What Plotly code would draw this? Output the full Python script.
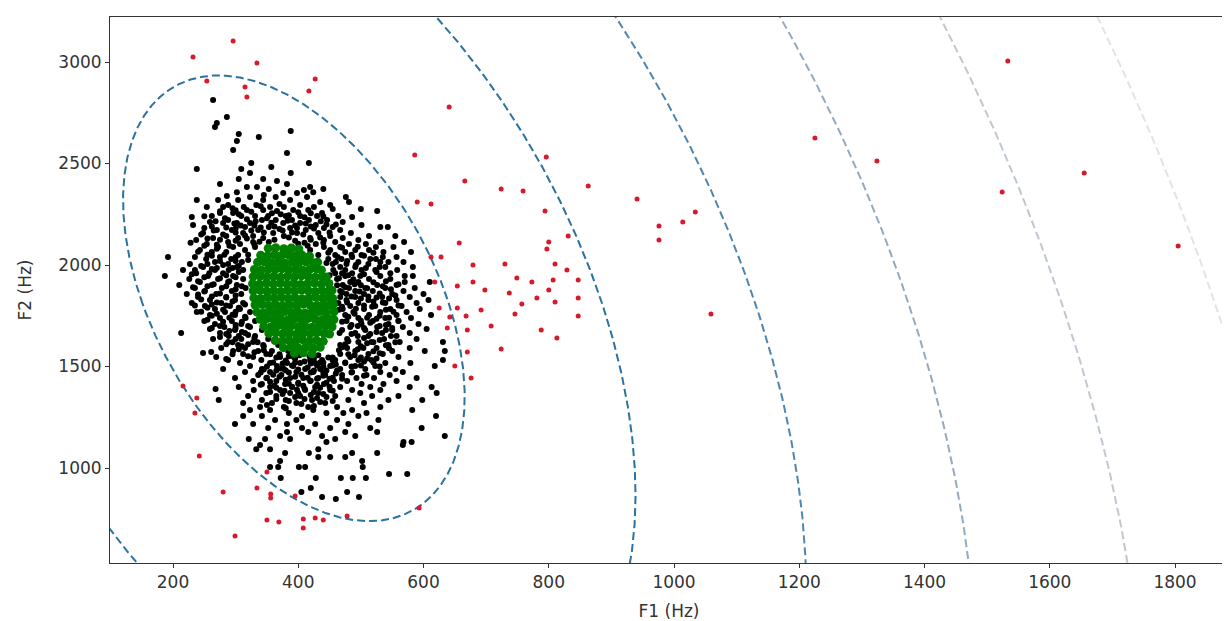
import numpy as np
import plotly.graph_objects as go

# ---- axis ticks ----
x_ticks = [200, 400, 600, 800, 1000, 1200, 1400, 1600, 1800]
y_ticks = [1000, 1500, 2000, 2500, 3000]

# ---- Mahalanobis-distance contours (centre, covariance at distance 1, levels) ----
ellipse_center = [393, 1836]
ellipse_cov = [[74400, -132300], [-132300, 1205000]]
contour_levels = [1, 2, 3, 4, 5, 6]
contour_colors = ["#2a72a0", "#2a72a0", "#4f86b0", "#94aac0", "#bfc7d0", "#e0e3e7"]

# ---- outliers (red) : (F1, F2) ----
red_pts = [
    (232, 3025), (296, 3103), (334, 2995), (254, 2906), (315, 2877), (318, 2828), (427, 2916), (417, 2857),
    (641, 2778), (586, 2542), (796, 2532), (666, 2414), (724, 2374), (759, 2365), (863, 2389), (941, 2325),
    (1034, 2261), (1014, 2212), (976, 2192), (976, 2123), (590, 2310), (612, 2300), (794, 2266), (831, 2143),
    (657, 2108), (800, 2113), (797, 2079), (612, 2039), (628, 2039), (679, 2000), (730, 2005), (810, 2005),
    (829, 1975), (749, 1936), (773, 1916), (807, 1926), (847, 1926), (618, 1916), (654, 1897), (679, 1916),
    (698, 1877), (800, 1877), (737, 1862), (781, 1837), (757, 1808), (810, 1818), (847, 1837), (625, 1788),
    (654, 1788), (692, 1778), (746, 1759), (668, 1749), (847, 1749), (642, 1744), (708, 1700), (638, 1690),
    (670, 1680), (788, 1680), (813, 1640), (670, 1571), (724, 1586), (650, 1502), (676, 1443), (1059, 1759),
    (1225, 2626), (1324, 2512), (1533, 3005), (1524, 2360), (1655, 2453), (1805, 2094),
    (216, 1404), (238, 1345), (235, 1271), (242, 1059), (280, 882), (299, 665), (334, 901), (350, 980),
    (356, 872), (356, 852), (395, 862), (350, 744), (369, 734), (408, 749), (408, 704), (427, 754),
    (440, 744), (478, 764), (593, 803),
]

# ---- samples between the core and the outliers (black) : (F1, F2) ----
black_pts = [
    (264, 2813), (286, 2729), (270, 2700), (267, 2680), (388, 2660), (305, 2645), (337, 2630), (302, 2611),
    (296, 2567), (382, 2552), (417, 2502), (325, 2502), (357, 2483), (238, 2473), (309, 2473), (323, 2453),
    (388, 2453), (305, 2424), (344, 2424), (366, 2414), (275, 2399), (382, 2399), (318, 2384), (334, 2384),
    (419, 2384), (353, 2374), (440, 2374), (409, 2369), (424, 2359), (302, 2359), (376, 2355), (398, 2355),
    (286, 2340), (323, 2335), (364, 2335), (414, 2335), (476, 2335), (238, 2320), (272, 2320), (304, 2320),
    (344, 2320), (387, 2320), (481, 2310), (435, 2310), (288, 2296), (333, 2296), (403, 2296), (451, 2296),
    (254, 2286), (280, 2286), (313, 2286), (355, 2286), (377, 2286), (425, 2286), (455, 2276), (500, 2276),
    (318, 2271), (344, 2271), (392, 2271), (416, 2271), (366, 2266), (526, 2266), (296, 2256), (275, 2256),
    (438, 2256), (262, 2241), (309, 2241), (331, 2241), (352, 2241), (380, 2241), (403, 2241), (430, 2241),
    (464, 2241), (230, 2236), (486, 2236), (288, 2222), (342, 2222), (364, 2222), (390, 2222), (417, 2222),
    (446, 2222), (471, 2212), (259, 2212), (280, 2207), (302, 2207), (323, 2207), (376, 2207), (403, 2207),
    (232, 2197), (428, 2197), (501, 2197), (531, 2187), (543, 2187), (315, 2187), (353, 2187), (455, 2187),
    (441, 2182), (250, 2182), (387, 2182), (270, 2172), (294, 2172), (336, 2172), (412, 2172), (467, 2172),
    (248, 2158), (312, 2158), (360, 2158), (398, 2158), (432, 2158), (484, 2158), (285, 2143), (328, 2143),
    (377, 2143), (451, 2143), (513, 2143), (555, 2143), (264, 2133), (304, 2133), (344, 2133), (419, 2133),
    (471, 2133), (237, 2123), (496, 2123), (441, 2123), (288, 2113), (328, 2113), (353, 2113), (459, 2113),
    (531, 2113), (569, 2113), (254, 2103), (307, 2103), (428, 2103), (481, 2103), (508, 2103), (272, 2089),
    (296, 2089), (331, 2089), (441, 2089), (467, 2089), (524, 2089), (552, 2089), (243, 2074), (315, 2074),
    (419, 2074), (451, 2074), (491, 2074), (513, 2074), (262, 2064), (285, 2064), (475, 2064), (536, 2064),
    (580, 2064), (304, 2049), (432, 2049), (459, 2049), (501, 2049), (192, 2039), (235, 2039), (275, 2039),
    (486, 2039), (557, 2039), (253, 2030), (293, 2030), (448, 2030), (469, 2030), (524, 2030), (310, 2015),
    (267, 2015), (496, 2015), (531, 2015), (544, 2015), (568, 2015), (227, 2005), (288, 2005), (455, 2005),
    (477, 2005), (512, 2005), (248, 1990), (302, 1990), (467, 1990), (491, 1990), (539, 1990), (583, 1990),
    (216, 1975), (267, 1975), (289, 1975), (312, 1975), (475, 1975), (501, 1975), (523, 1975), (558, 1975),
    (237, 1960), (280, 1960), (459, 1960), (486, 1960), (547, 1960), (187, 1946), (256, 1946), (296, 1946),
    (475, 1946), (499, 1946), (531, 1946), (570, 1946), (583, 1946), (226, 1931), (272, 1931), (312, 1931),
    (462, 1931), (513, 1931), (547, 1931), (243, 1916), (288, 1916), (483, 1916), (496, 1916), (570, 1916),
    (610, 1916), (210, 1901), (262, 1901), (302, 1901), (471, 1901), (526, 1901), (557, 1901), (235, 1887),
    (278, 1887), (316, 1887), (481, 1887), (507, 1887), (539, 1887), (586, 1887), (251, 1872), (294, 1872),
    (467, 1872), (491, 1872), (519, 1872), (568, 1872), (222, 1857), (269, 1857), (309, 1857), (477, 1857),
    (505, 1857), (550, 1857), (600, 1857), (240, 1842), (285, 1842), (467, 1842), (491, 1842), (534, 1842),
    (578, 1842), (259, 1828), (299, 1828), (477, 1828), (512, 1828), (557, 1828), (608, 1828), (230, 1813),
    (277, 1813), (312, 1813), (464, 1813), (496, 1813), (539, 1813), (589, 1813), (251, 1798), (291, 1798),
    (483, 1798), (523, 1798), (565, 1798), (267, 1783), (307, 1783), (471, 1783), (505, 1783), (547, 1783),
    (594, 1783), (238, 1768), (283, 1768), (323, 1768), (488, 1768), (531, 1768), (573, 1768), (259, 1754),
    (299, 1754), (475, 1754), (513, 1754), (557, 1754), (612, 1754), (275, 1739), (316, 1739), (496, 1739),
    (539, 1739), (580, 1739), (250, 1724), (294, 1724), (331, 1724), (477, 1724), (519, 1724), (560, 1724),
    (267, 1709), (309, 1709), (501, 1709), (544, 1709), (592, 1709), (282, 1695), (323, 1695), (483, 1695),
    (526, 1695), (567, 1695), (605, 1685), (259, 1685), (299, 1680), (342, 1680), (507, 1680), (550, 1680),
    (275, 1665), (315, 1665), (466, 1665), (491, 1665), (534, 1665), (578, 1665), (289, 1650), (331, 1650),
    (512, 1650), (557, 1650), (264, 1636), (309, 1636), (352, 1636), (478, 1636), (537, 1636), (589, 1636),
    (288, 1621), (328, 1621), (496, 1621), (517, 1621), (562, 1621), (631, 1621), (304, 1606), (344, 1606),
    (368, 1606), (467, 1606), (544, 1606), (277, 1591), (315, 1591), (478, 1591), (504, 1591), (525, 1591),
    (578, 1591), (296, 1577), (336, 1577), (358, 1577), (384, 1577), (491, 1577), (550, 1577), (602, 1577),
    (634, 1577), (312, 1562), (349, 1562), (403, 1562), (467, 1562), (512, 1562), (535, 1562), (269, 1547),
    (328, 1547), (371, 1547), (393, 1547), (483, 1547), (560, 1547), (288, 1532), (341, 1532), (419, 1532),
    (438, 1532), (459, 1532), (496, 1532), (517, 1532), (631, 1532), (307, 1517), (355, 1517), (382, 1517),
    (403, 1517), (427, 1517), (475, 1517), (539, 1517), (579, 1517), (323, 1503), (366, 1503), (392, 1503),
    (451, 1503), (491, 1503), (523, 1503), (618, 1503), (280, 1488), (342, 1488), (377, 1488), (411, 1488),
    (435, 1488), (467, 1488), (507, 1488), (555, 1488), (315, 1473), (355, 1473), (397, 1473), (424, 1473),
    (486, 1473), (531, 1473), (567, 1473), (336, 1458), (373, 1458), (443, 1458), (470, 1458), (509, 1458),
    (546, 1458), (299, 1443), (349, 1443), (387, 1443), (408, 1443), (432, 1443), (493, 1443), (521, 1443),
    (589, 1443), (328, 1429), (365, 1429), (419, 1429), (457, 1429), (478, 1429), (557, 1429), (342, 1414),
    (379, 1414), (400, 1414), (441, 1414), (501, 1414), (536, 1414), (305, 1399), (355, 1399), (390, 1399),
    (427, 1399), (467, 1399), (515, 1399), (578, 1399), (613, 1399), (329, 1384), (371, 1384), (411, 1384),
    (451, 1384), (486, 1384), (531, 1384), (349, 1369), (387, 1369), (432, 1369), (499, 1369), (621, 1369),
    (320, 1355), (365, 1355), (403, 1355), (459, 1355), (518, 1355), (560, 1355), (273, 1335), (342, 1335),
    (380, 1335), (422, 1335), (480, 1335), (544, 1335), (598, 1335), (312, 1320), (358, 1320), (397, 1320),
    (443, 1320), (505, 1320), (339, 1301), (377, 1301), (416, 1301), (462, 1301), (531, 1301), (323, 1286),
    (355, 1286), (424, 1286), (486, 1286), (582, 1286), (385, 1271), (445, 1271), (472, 1271), (509, 1271),
    (312, 1256), (342, 1256), (406, 1256), (496, 1256), (620, 1256), (363, 1236), (397, 1236), (462, 1236),
    (528, 1236), (299, 1217), (328, 1217), (382, 1217), (427, 1217), (480, 1217), (352, 1197), (406, 1197),
    (451, 1197), (515, 1197), (597, 1197), (382, 1177), (416, 1177), (475, 1177), (526, 1177), (371, 1158),
    (438, 1158), (491, 1158), (634, 1158), (321, 1143), (347, 1143), (387, 1143), (459, 1143), (445, 1128),
    (568, 1128), (581, 1128), (567, 1113), (339, 1113), (333, 1093), (355, 1093), (432, 1093), (379, 1074),
    (417, 1074), (486, 1074), (526, 1074), (451, 1054), (432, 1054), (475, 1054), (371, 1034), (502, 1034),
    (355, 1005), (368, 1005), (401, 1005), (411, 1005), (503, 1005), (545, 970), (574, 970), (428, 951),
    (468, 951), (487, 951), (508, 951), (372, 951), (420, 902), (405, 882), (478, 882), (438, 857),
    (497, 857), (460, 847), (213, 1665), (248, 1567), (261, 1571), (285, 1537), (268, 1389),
    (295, 2280), (340, 2290), (372, 2250), (400, 2260), (283, 2230), (318, 2225), (350, 2230), (410, 2235),
    (300, 2180), (330, 2195), (362, 2190), (395, 2195), (425, 2180), (280, 2150), (315, 2145), (345, 2160),
    (375, 2170), (408, 2150), (300, 2120), (330, 2100), (395, 2120), (420, 2125), (270, 2100), (450, 2160),
    (460, 2200), (440, 2240), (370, 2300), (345, 2345), (300, 2270), (265, 2170), (255, 2130), (290, 2095),
    (448, 2060), (463, 2040), (478, 2020), (505, 2045), (520, 2060), (456, 1975), (470, 1960), (492, 2000),
    (508, 1985), (530, 1990), (462, 1900), (488, 1930), (500, 1900), (520, 1915), (540, 1920), (470, 1865),
    (498, 1870), (512, 1845), (530, 1860), (548, 1880), (478, 1815), (505, 1800), (520, 1820), (545, 1835),
    (560, 1800), (465, 1780), (490, 1760), (510, 1740), (530, 1750), (552, 1770), (470, 1720), (495, 1700),
    (515, 1715), (540, 1705), (560, 1725), (485, 1660), (505, 1640), (525, 1670), (548, 1650), (475, 1610),
    (500, 1600), (520, 1620), (545, 1590), (465, 1580), (490, 1555), (510, 1540), (530, 1565), (455, 1545),
    (475, 1520), (500, 1505), (520, 1520), (462, 1480), (485, 1470), (505, 1455), (440, 1500), (450, 1440),
    (255, 2050), (275, 2020), (300, 2040), (245, 1995), (270, 1985), (295, 1985), (320, 2050), (230, 1955),
    (258, 1960), (285, 1950), (305, 1965), (240, 1920), (265, 1905), (290, 1920), (310, 1895), (250, 1870),
    (275, 1860), (300, 1850), (245, 1830), (270, 1815), (295, 1820), (315, 1805), (255, 1790), (280, 1780),
    (300, 1770), (262, 1750), (290, 1740), (310, 1720), (275, 1700), (300, 1690), (320, 1700), (285, 1660),
    (305, 1650), (330, 1640), (295, 1620), (320, 1610), (345, 1600), (305, 1585), (330, 1570), (355, 1560),
    (365, 1545), (380, 1530), (395, 1540), (410, 1525), (425, 1540), (440, 1520), (455, 1530), (350, 1500),
    (372, 1490), (390, 1505), (415, 1495), (430, 1505), (445, 1480), (340, 1470), (360, 1460), (385, 1470),
    (405, 1460), (420, 1470), (440, 1455), (460, 1465), (355, 1425), (380, 1435), (400, 1420), (420, 1430),
    (445, 1420), (470, 1440), (365, 1395), (390, 1400), (410, 1390), (435, 1395), (455, 1380), (375, 1365),
    (400, 1370), (420, 1360), (445, 1350), (385, 1330), (410, 1340), (435, 1325),
    (275, 2265), (305, 2250), (325, 2262), (358, 2255), (385, 2245), (420, 2255), (268, 2215), (298, 2205),
    (332, 2215), (357, 2208), (383, 2218), (412, 2205), (436, 2215), (262, 2190), (285, 2185), (308, 2195),
    (340, 2185), (370, 2178), (398, 2182), (420, 2190), (445, 2200), (275, 2125), (318, 2130), (338, 2115),
    (362, 2125), (385, 2135), (410, 2110), (435, 2135), (300, 2160), (325, 2170), (390, 2160), (250, 2240),
    (245, 2150), (228, 2110), (270, 2080), (250, 2095), (415, 2095), (440, 2110), (400, 2105),
    (445, 2010), (460, 2015), (470, 2085), (495, 2090), (485, 2050), (515, 2030), (535, 2040), (450, 1950),
    (465, 1935), (480, 1950), (505, 1955), (525, 1965), (475, 1890), (490, 1905), (510, 1885), (535, 1895),
    (560, 1905), (485, 1845), (500, 1835), (525, 1840), (535, 1815), (555, 1850), (470, 1795), (492, 1785),
    (518, 1795), (540, 1780), (480, 1745), (500, 1725), (525, 1735), (545, 1740), (485, 1705), (505, 1690),
    (530, 1700), (550, 1690), (470, 1680), (495, 1650), (515, 1660), (540, 1680), (480, 1625), (510, 1615),
    (530, 1630), (555, 1620), (470, 1595), (495, 1585), (520, 1575), (540, 1605), (480, 1560), (500, 1545),
    (525, 1540), (460, 1510), (485, 1500), (505, 1525), (530, 1500),
    (240, 2065), (262, 2045), (282, 2050), (300, 2020), (320, 2025), (255, 2005), (280, 2000), (305, 1995),
    (235, 1975), (262, 1980), (250, 1940), (275, 1935), (300, 1940), (232, 1890), (255, 1895), (285, 1895),
    (300, 1880), (240, 1855), (262, 1845), (285, 1840), (235, 1800), (262, 1805), (285, 1800), (305, 1790),
    (245, 1770), (270, 1760), (295, 1755), (315, 1745), (255, 1730), (280, 1720), (300, 1705), (262, 1690),
    (290, 1675), (310, 1670), (275, 1645), (300, 1635), (320, 1655), (285, 1610), (310, 1600), (335, 1620),
    (295, 1560), (320, 1550), (345, 1580),
    (370, 1560), (385, 1550), (402, 1555), (418, 1550), (432, 1555), (448, 1545), (360, 1520), (375, 1515),
    (395, 1520), (420, 1515), (435, 1520), (455, 1505), (345, 1485), (365, 1480), (380, 1480), (400, 1485),
    (425, 1480), (440, 1470), (350, 1445), (370, 1450), (395, 1450), (415, 1445), (430, 1440), (455, 1445),
    (340, 1410), (362, 1405), (385, 1415), (408, 1405), (430, 1410), (450, 1400), (355, 1375), (378, 1380),
    (398, 1385), (425, 1375), (440, 1365), (365, 1340), (395, 1350), (430, 1345), (455, 1330), (350, 1310),
    (380, 1295), (405, 1315), (425, 1305),
]

# ---- core samples (green) : (F1, F2) ----
green_pts = [
    (352, 2082), (364, 2085), (377, 2080), (389, 2084), (401, 2079),
    (340, 2048), (351, 2045), (362, 2050), (373, 2047), (384, 2051), (395, 2046), (406, 2049), (418, 2044),
    (335, 2013), (346, 2016), (357, 2011), (368, 2014), (379, 2010), (390, 2015), (401, 2012), (412, 2016),
    (424, 2011), (431, 2014),
    (330, 1978), (341, 1975), (352, 1980), (363, 1977), (374, 1981), (385, 1976), (396, 1979), (407, 1974),
    (418, 1978), (429, 1981), (437, 1976),
    (328, 1943), (339, 1946), (350, 1941), (361, 1944), (372, 1940), (383, 1945), (394, 1942), (405, 1947),
    (416, 1943), (427, 1940), (438, 1944), (445, 1941),
    (327, 1908), (338, 1905), (349, 1910), (360, 1907), (371, 1911), (382, 1906), (393, 1909), (404, 1904),
    (415, 1908), (426, 1911), (437, 1906), (449, 1909),
    (328, 1873), (339, 1876), (350, 1871), (361, 1874), (372, 1870), (383, 1875), (394, 1872), (405, 1877),
    (416, 1873), (427, 1870), (438, 1874), (448, 1871), (454, 1875),
    (329, 1838), (340, 1835), (351, 1840), (362, 1837), (373, 1841), (384, 1836), (395, 1839), (406, 1834),
    (417, 1838), (428, 1841), (439, 1836), (449, 1839), (455, 1835),
    (331, 1803), (342, 1806), (353, 1801), (364, 1804), (375, 1800), (386, 1805), (397, 1802), (408, 1807),
    (419, 1803), (430, 1800), (441, 1804), (451, 1801), (456, 1806),
    (334, 1768), (345, 1765), (356, 1770), (367, 1767), (378, 1771), (389, 1766), (400, 1769), (411, 1764),
    (422, 1768), (433, 1771), (444, 1766), (457, 1769),
    (339, 1733), (350, 1736), (361, 1731), (372, 1734), (383, 1730), (394, 1735), (405, 1732), (416, 1737),
    (427, 1733), (438, 1730), (449, 1734), (457, 1731),
    (345, 1698), (356, 1695), (367, 1700), (378, 1697), (389, 1701), (400, 1696), (411, 1699), (422, 1694),
    (433, 1698), (444, 1701), (454, 1696),
    (353, 1663), (364, 1666), (375, 1661), (386, 1664), (397, 1660), (408, 1665), (419, 1662), (430, 1667),
    (441, 1663), (450, 1660),
    (363, 1628), (374, 1625), (385, 1630), (396, 1627), (407, 1631), (418, 1626), (429, 1629), (440, 1624),
    (376, 1593), (388, 1596), (400, 1591), (412, 1594), (424, 1590), (435, 1595),
    (394, 1565), (408, 1568), (422, 1563),
]

fig = go.Figure()

# contour lines (Mahalanobis distance = level)
cov = np.array(ellipse_cov, dtype=float)
vals, vecs = np.linalg.eigh(cov)
theta = np.linspace(0, 2 * np.pi, 1200)
unit = np.vstack([np.cos(theta), np.sin(theta)])
base = vecs @ (np.sqrt(vals)[:, None] * unit)
for k, col in zip(contour_levels, contour_colors):
    fig.add_trace(go.Scatter(
        x=base[0] * k + ellipse_center[0], y=base[1] * k + ellipse_center[1],
        mode="lines", line=dict(color=col, width=2, dash="8px,4px"),
        hoverinfo="skip", showlegend=False))

def add_points(pts, color, size):
    fig.add_trace(go.Scatter(
        x=[p[0] for p in pts], y=[p[1] for p in pts], mode="markers",
        marker=dict(color=color, size=size, line=dict(width=0)),
        showlegend=False))

add_points(black_pts, "#000000", 6)
add_points(green_pts, "#008000", 9)
add_points(red_pts, "#d7192e", 5)

font = dict(family="DejaVu Sans", size=17, color="#333333")
axis_common = dict(
    ticks="outside", ticklen=4, tickwidth=1, tickcolor="#333333",
    showline=True, linecolor="#333333", linewidth=1, mirror=True,
    showgrid=False, zeroline=False, tickfont=font,
)
fig.update_xaxes(range=[99.4, 1884.6], tickvals=x_ticks, **axis_common,
                 title=dict(text="F1 (Hz)", standoff=13, font=font))
fig.update_yaxes(range=[532.1, 3221.7], tickvals=y_ticks, **axis_common,
                 title=dict(text="F2 (Hz)", standoff=22, font=font))

# page body adds an 8px margin, so the figure is sized to fit inside the window
fig.update_layout(
    width=1222, height=613,
    margin=dict(l=102, r=2, t=9, b=58, autoexpand=False),
    plot_bgcolor="white", paper_bgcolor="white",
    showlegend=False,
)

fig.write_html("out.html")
